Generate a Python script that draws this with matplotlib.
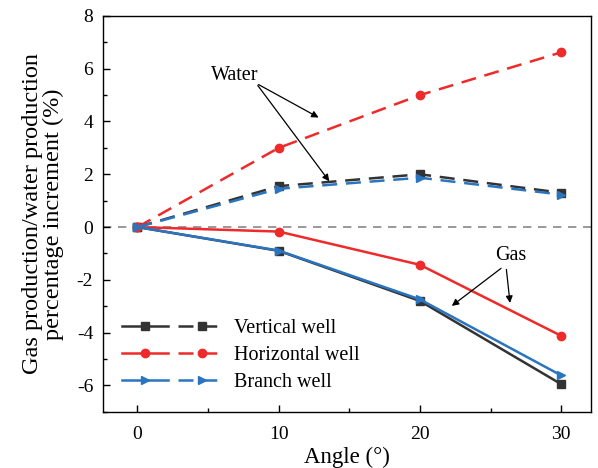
import numpy as np
import matplotlib.pyplot as plt
from matplotlib.legend_handler import HandlerTuple

plt.rcParams['font.family'] = ['Liberation Serif', 'DejaVu Serif']
plt.rcParams['axes.unicode_minus'] = False

angle = [0, 10, 20, 30]

water_vertical = [0, 1.55, 2.0, 1.3]
water_horizontal = [0, 3.0, 5.0, 6.62]
water_branch = [0, 1.45, 1.87, 1.23]

gas_vertical = [0, -0.9, -2.8, -5.95]
gas_horizontal = [0, -0.17, -1.43, -4.12]
gas_branch = [0, -0.89, -2.74, -5.62]

labels = ['Vertical well', 'Horizontal well', 'Branch well']
colors = ['#333333', '#ee2a2a', '#2a74c0']
markers = ['s', 'o', '>']

fig, ax = plt.subplots(figsize=(5.98, 4.68), dpi=100)
fig.subplots_adjust(left=0.172, right=0.988, top=0.966, bottom=0.12)

ax.axhline(0, color='#888888', ls=(0, (5, 4)), lw=1.2, zorder=1)

handles = []
for gas, water, lab, c, m in zip([gas_vertical, gas_horizontal, gas_branch],
                                 [water_vertical, water_horizontal, water_branch],
                                 labels, colors, markers):
    h1, = ax.plot(angle, gas, color=c, marker=m, ms=6, lw=1.8)
    h2, = ax.plot(angle, water, color=c, marker=m, ms=6, lw=1.8, ls=(0, (6, 3.5)))
    handles.append((h1, h2))

ax.legend(handles, labels, handler_map={tuple: HandlerTuple(ndivide=None, pad=0.5)},
          loc='lower left', bbox_to_anchor=(0.002, 0.005), frameon=False,
          fontsize=14.5, handlelength=5.1, labelspacing=0.38, handletextpad=0.45)

# annotations
ax.text(8.6, 5.4, 'Water', fontsize=14.5, ha='right', va='bottom')
ax.annotate('', xy=(13.0, 4.1), xytext=(8.4, 5.45),
            arrowprops=dict(arrowstyle='-|>', color='black', lw=0.9, mutation_scale=10))
ax.annotate('', xy=(13.7, 1.65), xytext=(8.4, 5.45),
            arrowprops=dict(arrowstyle='-|>', color='black', lw=0.9, mutation_scale=10))

ax.text(26.4, -1.42, 'Gas', fontsize=14.5, ha='center', va='bottom')
ax.annotate('', xy=(22.1, -3.05), xytext=(25.9, -1.5),
            arrowprops=dict(arrowstyle='-|>', color='black', lw=0.9, mutation_scale=10))
ax.annotate('', xy=(26.4, -2.98), xytext=(26.1, -1.5),
            arrowprops=dict(arrowstyle='-|>', color='black', lw=0.9, mutation_scale=10))

ax.set_xlim(-2.45, 32.1)
ax.set_ylim(-6.88, 8)
ax.set_xticks([0, 10, 20, 30])
ax.set_xticks([5, 15, 25], minor=True)
ax.set_yticks(np.arange(-6, 9, 2))
ax.set_yticks(np.arange(-7, 8, 2), minor=True)
ax.tick_params(direction='in', labelsize=14, length=5, width=1, pad=7)
ax.tick_params(axis='x', pad=10)
ax.tick_params(which='minor', direction='in', length=3, width=1)
for s in ax.spines.values():
    s.set_linewidth(1.0)

ax.set_xlabel('Angle (°)', fontsize=16.5, labelpad=3)
ax.set_ylabel('Gas production/water production\npercentage increment (%)', fontsize=17.5,
              labelpad=9, linespacing=1.0)

fig.savefig('out.png', dpi=100)
